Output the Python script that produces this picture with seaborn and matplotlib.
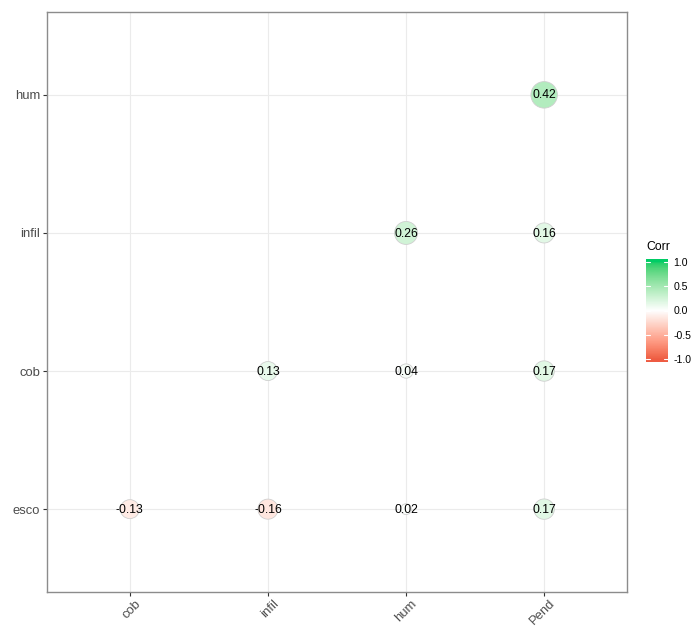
import numpy as np
import pandas as pd
import matplotlib
matplotlib.use("Agg")
import matplotlib.pyplot as plt
import matplotlib.transforms as mtransforms
from matplotlib.colors import ListedColormap
import seaborn as sns

# correlation pairs (upper part of the matrix)
var_x = ["cob", "infil", "hum", "Pend",
         "infil", "hum", "Pend",
         "hum", "Pend",
         "Pend"]
var_y = ["esco", "esco", "esco", "esco",
         "cob", "cob", "cob",
         "infil", "infil",
         "hum"]
corr = [-0.13, -0.16, 0.02, 0.17,
        0.13, 0.04, 0.17,
        0.26, 0.16,
        0.42]
x_order = ["cob", "infil", "hum", "Pend"]
y_order = ["esco", "cob", "infil", "hum"]
legend_ticks = [-1.0, -0.5, 0.0, 0.5, 1.0]

low_col, mid_col, high_col = "#EE5C42", "#FFFFFF", "#00CD66"   # tomato2, white, springgreen3


# ---- Lab interpolation for a diverging gradient ----
_M = np.array([[0.4124564, 0.3575761, 0.1804375],
               [0.2126729, 0.7151522, 0.0721750],
               [0.0193339, 0.1191920, 0.9503041]])
_WHITE = np.array([0.95047, 1.0, 1.08883])
_EPS, _KAP = 216 / 24389, 24389 / 27


def to_lab(hexcol):
    rgb = np.array(matplotlib.colors.to_rgb(hexcol))
    lin = np.where(rgb <= 0.04045, rgb / 12.92, ((rgb + 0.055) / 1.055) ** 2.4)
    t = (_M @ lin) / _WHITE
    f = np.where(t > _EPS, np.cbrt(t), (_KAP * t + 16) / 116)
    return np.array([116 * f[1] - 16, 500 * (f[0] - f[1]), 200 * (f[1] - f[2])])


def from_lab(lab):
    L, a, b = lab
    fy = (L + 16) / 116
    fx = fy + a / 500
    fz = fy - b / 200
    f = np.array([fx, fy, fz])
    t = np.where(f ** 3 > _EPS, f ** 3, (116 * f - 16) / _KAP)
    xyz = t * _WHITE
    lin = np.linalg.solve(_M, xyz)
    lin = np.clip(lin, 0, 1)
    rgb = np.where(lin <= 0.0031308, 12.92 * lin, 1.055 * lin ** (1 / 2.4) - 0.055)
    return np.clip(rgb, 0, 1)


lab_lo, lab_mid, lab_hi = to_lab(low_col), to_lab(mid_col), to_lab(high_col)
colors = []
for t in np.linspace(-1, 1, 256):
    if t < 0:
        lab = lab_lo + (lab_mid - lab_lo) * (t + 1)
    else:
        lab = lab_mid + (lab_hi - lab_mid) * t
    colors.append(from_lab(lab))
cmap = ListedColormap(colors)

# ---- marker size: diameter grows with sqrt of rescaled |r| ----
df = pd.DataFrame({"x": var_x, "y": var_y, "Corr": corr})
absr = df["Corr"].abs()
resc = (absr - absr.min()) / (absr.max() - absr.min())
diam = 4 + 6 * np.sqrt(resc)            # size units 4..10
df["area"] = diam ** 2
d_min_pt, d_max_pt = 10.8 * 0.72, 26.5 * 0.72

sns.set_theme(style="white")
plt.rcParams["font.family"] = ["Liberation Sans", "DejaVu Sans"]

fig = plt.figure(figsize=(6.92, 6.26), dpi=100)
W, H = 692, 626
ax = fig.add_axes([47 / W, (H - 592) / H, 580 / W, 580 / H])

sns.scatterplot(data=df, x="x", y="y", hue="Corr", palette=cmap, hue_norm=(-1, 1),
                size="area", sizes=(d_min_pt ** 2, d_max_pt ** 2),
                edgecolor="#CFCFCF", linewidth=0.6, legend=False, ax=ax, zorder=3)

xpos = {c: i for i, c in enumerate(x_order)}
ypos = {c: i for i, c in enumerate(y_order)}
for xv, yv, v in zip(var_x, var_y, corr):
    ax.text(xpos[xv], ypos[yv] - 0.004, f"{v:.2f}", ha="center", va="center",
            fontsize=8.8, color="black", zorder=4)

ax.set_xlim(-0.6, 3.6)
ax.set_ylim(-0.6, 3.6)
ax.set_xticks(range(len(x_order)))
ax.set_xticklabels(x_order)
ax.set_yticks(range(len(y_order)))
ax.set_yticklabels(y_order)
ax.set_xlabel("")
ax.set_ylabel("")
ax.grid(True, color="#EBEBEB", linewidth=0.8)
ax.set_axisbelow(True)
for sp in ax.spines.values():
    sp.set_visible(True)
    sp.set_color("#8C8C8C")
    sp.set_linewidth(1.0)
ax.tick_params(axis="both", which="major", length=3, width=0.8, color="#333333",
               labelsize=9.4, labelcolor="#4D4D4D", bottom=True, left=True)
ax.tick_params(axis="y", pad=2)
ax.tick_params(axis="x", pad=1)
shift = mtransforms.ScaledTranslation(5 / 100, 0, fig.dpi_scale_trans)
for lbl in ax.get_xticklabels():
    lbl.set_rotation(45)
    lbl.set_ha("right")
    lbl.set_va("top")
    lbl.set_rotation_mode("anchor")
    lbl.set_transform(lbl.get_transform() + shift)

# ---- colour bar legend ----
nbin = 20
lim = 1 + 1 / (nbin - 1)
cax = fig.add_axes([646 / W, (H - 362) / H, 22 / W, 103 / H])
vals = np.linspace(-1, 1, nbin)[::-1].reshape(-1, 1)
cax.imshow(vals, cmap=cmap, vmin=-1, vmax=1, aspect="auto",
           extent=[0, 1, -lim, lim], interpolation="bilinear")
cax.set_xlim(0, 1)
cax.set_ylim(-lim, lim)
for t in legend_ticks:
    cax.plot([0, 0.2], [t, t], color="white", linewidth=0.8)
    cax.plot([0.8, 1], [t, t], color="white", linewidth=0.8)
cax.set_xticks([])
cax.yaxis.tick_right()
cax.set_yticks(legend_ticks)
cax.set_yticklabels([f"{t:.1f}" for t in legend_ticks])
cax.tick_params(axis="y", length=0, pad=4, labelsize=7.6, labelcolor="black")
for sp in cax.spines.values():
    sp.set_visible(False)
fig.text(646 / W, 1 - 247 / H, "Corr", fontsize=8.8, color="black", va="center", ha="left")

fig.savefig("out.png", dpi=100)
